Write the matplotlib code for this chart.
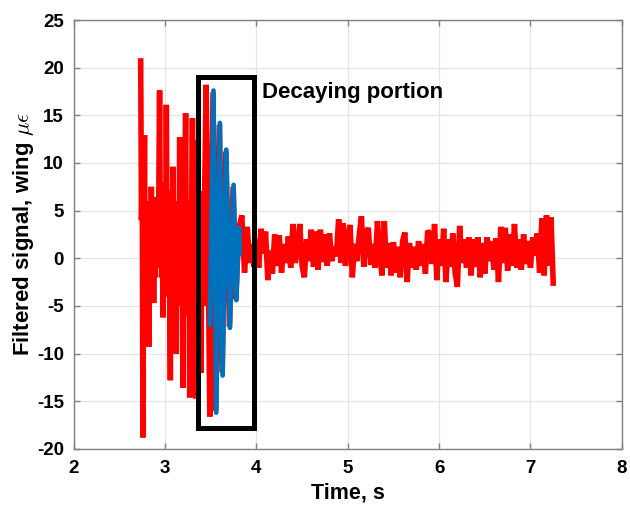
import numpy as np
import matplotlib
matplotlib.use("Agg")
import matplotlib.pyplot as plt
from matplotlib.patches import Rectangle

plt.rcParams['font.family'] = ['Liberation Sans', 'DejaVu Sans']
plt.rcParams['mathtext.fontset'] = 'cm'

# ---- Data ----
# large-amplitude burst (red), explicit time stamps
t_burst = [2.733, 2.742, 2.750, 2.758, 2.766, 2.775, 2.782, 2.790, 2.800, 2.808,
           2.816, 2.824, 2.832, 2.840, 2.850, 2.858, 2.866, 2.875, 2.882, 2.890,
           2.897, 2.905, 2.912, 2.920, 2.930, 2.940, 2.948, 2.955, 2.962, 2.970,
           2.977, 2.985, 2.993, 3.000, 3.007, 3.014, 3.022, 3.030, 3.038, 3.046,
           3.058, 3.066, 3.074, 3.080, 3.087, 3.095, 3.102, 3.110, 3.116, 3.123,
           3.131, 3.138, 3.146, 3.153, 3.160, 3.168, 3.175, 3.182, 3.189, 3.196,
           3.204, 3.210, 3.217, 3.225, 3.233, 3.241, 3.249, 3.257, 3.263, 3.270,
           3.277, 3.284, 3.292, 3.300, 3.308, 3.315, 3.322, 3.328, 3.335, 3.342,
           3.349, 3.360, 3.368, 3.375, 3.383, 3.395, 3.402, 3.410, 3.418, 3.426,
           3.435, 3.450, 3.470, 3.490, 3.525, 3.555, 3.595, 3.625, 3.665, 3.705,
           3.745, 3.775, 3.805, 3.840, 3.870]
y_burst = [21.0, 4.0, 9.0, -18.8, 2.0, 12.9, -2.0, 6.0, 1.0, 5.0,
           -3.0, -9.3, 2.0, -1.0, 7.5, 0.0, 3.0, -4.7, 1.0, -2.0,
           6.4, -1.0, 3.5, -0.9, 5.0, 17.6, 3.0, 8.0, -2.0, 4.0,
           -6.2, 5.0, -1.0, 6.0, 0.0, 16.1, 2.0, 7.0, -4.0, 3.0,
           -12.8, 4.0, -2.0, 5.0, 9.6, -2.0, 5.0, -4.0, 2.0, -10.0,
           5.0, -3.0, 6.0, -1.0, 12.7, -3.0, 6.0, -5.0, 3.0, -13.6,
           5.0, -4.0, 7.0, 15.2, -2.0, 6.0, -6.0, 4.0, -3.0, -14.6,
           5.0, -5.0, 6.0, 14.7, -4.0, 5.0, -6.0, 3.0, -14.7, 4.0,
           -5.0, 12.4, -4.0, 6.0, -6.0, -12.0, 5.0, -3.0, 7.0, -5.0,
           8.0, 18.2, 2.0, -16.6, 17.4, -16.0, 14.0, -12.0, 11.2, -7.2,
           7.5, -4.3, 3.0, 4.5, -1.5]

# low-level residual signal (red), sampled every 0.025 s from 3.9 s
noise_t0 = 3.9
noise_dt = 0.025
y_noise = [
    3.3, -0.5, 1.5, -0.9, 2.0, -1.0, 3.1, 0.5, 2.8, -2.3,
    0.8, -1.6, 2.5, -0.8, 2.4, -1.5, 1.5, -0.5, 2.3, -1.0,
    3.6, -0.5, 1.2, 3.6, -0.8, -2.0, 2.0, -0.3, 3.0, -0.9,
    2.8, -1.2, 3.0, -0.4, 2.5, -0.8, 2.6, -0.3, 1.2, 0.2,
    4.1, -0.5, 3.7, -0.8, 2.0, 3.5, -2.0, 1.5, -0.3, 2.4,
    4.4, -0.9, 2.5, 3.2, -0.7, 1.5, -1.0, 3.9, 0.5, -1.8,
    3.9, -1.0, 1.6, -1.8, 1.7, -1.5, 1.2, -2.0, 1.8, 2.7,
    -2.5, 1.6, -1.0, 1.2, -1.2, 1.8, -0.8, 1.5, -1.6, 2.9,
    2.5, -0.6, 3.6, -2.3, 2.0, -0.8, 3.1, -2.5, 2.0, -0.9,
    2.6, -1.5, -3.0, 3.4, -0.5, 2.0, -1.0, 2.2, -1.8, 2.0,
    -0.9, 2.2, -2.0, 1.6, -1.6, 2.2, -0.3, 1.8, -1.2, 2.1,
    -2.5, 3.3, -0.5, 3.2, -1.3, 2.5, -0.8, 3.6, -1.0, 2.0,
    -1.2, 2.5, -0.6, 1.8, -1.0, 2.2, 0.3, 2.6, -1.5, 4.2,
    -1.8, 4.5, -0.8, 4.3, -2.9,
]

# decaying portion (blue)
t_decay = [3.49, 3.53, 3.56, 3.60, 3.63, 3.67, 3.71, 3.75, 3.78, 3.81, 3.82]
y_decay = [-7.0, 17.6, -16.2, 14.2, -12.3, 11.4, -7.3, 7.7, -4.4, 3.2, 0.5]

# highlighted window
box_t = [3.357, 3.97]
box_y = [-17.8, 19.0]

x_ticks = [2, 3, 4, 5, 6, 7, 8]
y_ticks = [-20, -15, -10, -5, 0, 5, 10, 15, 20, 25]

# ---- Build series ----
t_noise = noise_t0 + noise_dt * np.arange(len(y_noise))
t_red = np.concatenate([t_burst, t_noise])
y_red = np.concatenate([y_burst, y_noise])

fig = plt.figure(figsize=(6.30, 5.13), dpi=100)
ax = fig.add_axes([0.117, 0.125, 0.870, 0.836])

ax.plot(t_red, y_red, color='#FF0000', lw=4.0, solid_joinstyle='bevel',
        solid_capstyle='butt', zorder=3)
ax.plot(t_decay, y_decay, color='#0072BD', lw=3.4, solid_capstyle='round',
        solid_joinstyle='round', zorder=4)

ax.add_patch(Rectangle((box_t[0], box_y[0]), box_t[1] - box_t[0], box_y[1] - box_y[0],
                       fill=False, edgecolor='black', lw=3.6, zorder=5))
ax.text(4.06, 17.4, 'Decaying portion', fontsize=16, fontweight='bold',
        ha='left', va='center', zorder=6)

ax.set_xlim(2, 8)
ax.set_ylim(-20, 25)
ax.set_xticks(x_ticks)
ax.set_yticks(y_ticks)
ax.set_xticklabels([str(v) for v in x_ticks], fontsize=13.5, fontweight='bold')
ax.set_yticklabels([str(v) for v in y_ticks], fontsize=13.5, fontweight='bold')
ax.tick_params(axis='x', pad=8)
ax.tick_params(axis='y', pad=7)
ax.tick_params(direction='in', length=4, width=1, color='#808080',
               top=True, right=True)
ax.grid(True, color='#E5E5E5', lw=0.9, zorder=0)
ax.set_axisbelow(True)
for s in ax.spines.values():
    s.set_color('#808080')
    s.set_linewidth(1.0)

ax.set_xlabel('Time, s', fontsize=15.5, fontweight='bold', labelpad=4)
ax.set_ylabel(r'Filtered signal, wing $\mu\epsilon$', fontsize=16,
              fontweight='bold', labelpad=1)

fig.savefig('out.png', dpi=100)
